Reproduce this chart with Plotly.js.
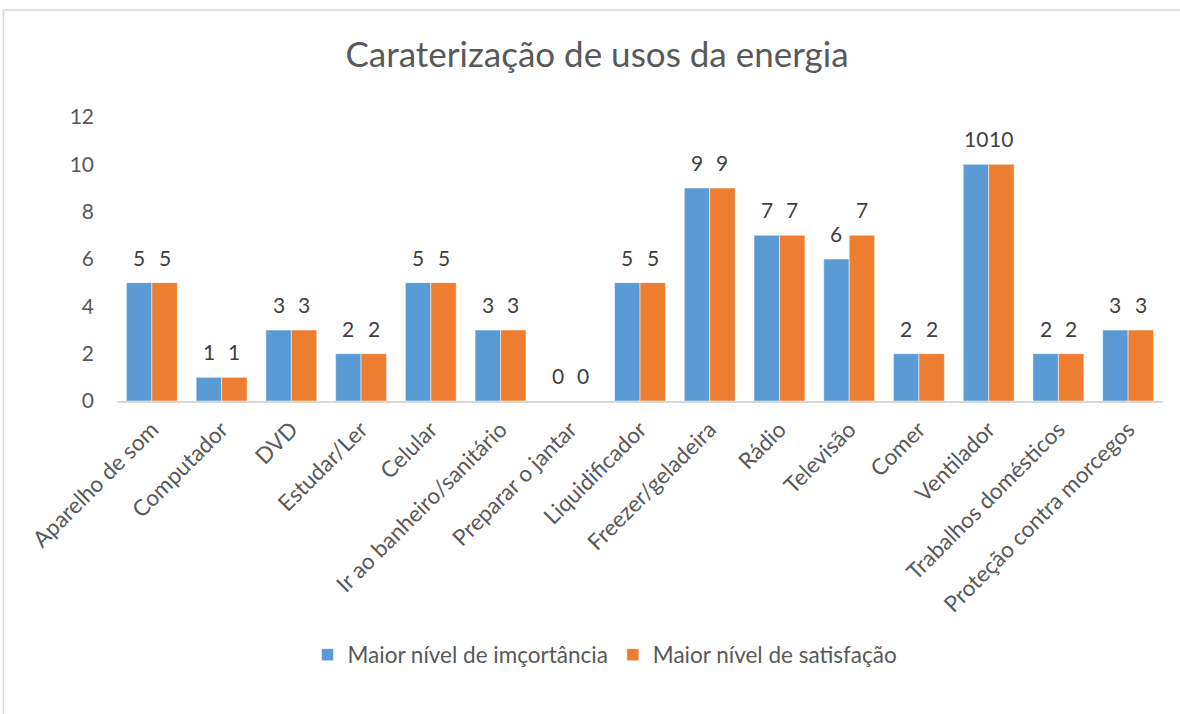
<!DOCTYPE html>
<html><head><meta charset="utf-8">
<script src="https://cdn.plot.ly/plotly-3.0.1.min.js"></script>
<style>body{margin:0;background:#fff}#chart{width:1180px;height:714px}</style>
</head><body><div id="chart"></div>
<script>
const categories = ["Aparelho de som","Computador","DVD","Estudar/Ler","Celular","Ir ao banheiro/sanitário","Preparar o jantar","Liquidificador","Freezer/geladeira","Rádio","Televisão","Comer","Ventilador","Trabalhos domésticos","Proteção contra morcegos"];
const importancia = [5,1,3,2,5,3,0,5,9,7,6,2,10,2,3];
const satisfacao = [5,1,3,2,5,3,0,5,9,7,7,2,10,2,3];
const seriesNames = ["Maior nível de imçortância","Maior nível de satisfação"];
const seriesColors = ['#5B9BD5','#ED7D31'];
const yTicks = [0,2,4,6,8,10,12];

const FONT = "Lato, 'Open Sans', sans-serif";
const L=117, R=1163, T=117, B=401;
const pw=R-L, ph=B-T;
const px = x => (x-L)/pw, py = y => (B-y)/ph;
const BARGAP = 0.27;
const barPx = pw/categories.length*(1-BARGAP)/2;

const series = [importancia, satisfacao];
const data = series.map((vals,i) => ({
  type:'bar', name:seriesNames[i], x:categories, y:vals,
  marker:{color:seriesColors[i], line:{color:'#ffffff', width:0.5}},
  hoverinfo:'x+y'
}));

// data labels built from the series values
const annotations = [];
series.forEach((vals,i) => {
  vals.forEach((v,j) => {
    annotations.push({x:categories[j], y:v, xref:'x', yref:'y', text:String(v), showarrow:false,
      xanchor:'center', yanchor:'bottom', yshift:11, xshift:(i===0?-1:1)*barPx/2,
      font:{family:FONT, size:21, color:'#404040'}});
  });
});

const layout = {
  width:1180, height:714, autosize:false,
  margin:{l:L, r:1180-R, t:T, b:714-B, autoexpand:false},
  paper_bgcolor:'#fff', plot_bgcolor:'#fff',
  font:{family:FONT, color:'#595959', size:20},
  title:{text:'Caraterização de usos da energia', font:{family:FONT, size:35, color:'#595959'},
    x:597/1180, xref:'container', xanchor:'center', y:1-55/714, yanchor:'middle'},
  barmode:'group', bargap:BARGAP, bargroupgap:0,
  xaxis:{tickangle:-45, showline:true, linecolor:'#d9d9d9', linewidth:1.5, ticks:'', showgrid:false,
    tickfont:{family:FONT, size:22.5, color:'#595959'}, ticklabelstandoff:5, automargin:false},
  yaxis:{range:[0,12], tickvals:yTicks, showgrid:false, zeroline:false, showline:false, ticks:'',
    tickfont:{family:FONT, size:21, color:'#595959'}, ticklabelstandoff:22, automargin:false},
  showlegend:true,
  legend:{orientation:'h', x:px(605), xref:'paper', xanchor:'center', y:py(655), yref:'paper', yanchor:'middle',
    font:{family:FONT, size:22.5, color:'#595959'}, traceorder:'normal', itemwidth:30},
  annotations:annotations,
  shapes:[{type:'rect', xref:'paper', yref:'paper', x0:px(3.5), x1:px(1190), y0:py(10), y1:py(730),
    line:{color:'#d9d9d9', width:1.5}, fillcolor:'rgba(0,0,0,0)', layer:'below'}]
};
Plotly.newPlot('chart', data, layout, {displayModeBar:false, staticPlot:true});
</script></body></html>
